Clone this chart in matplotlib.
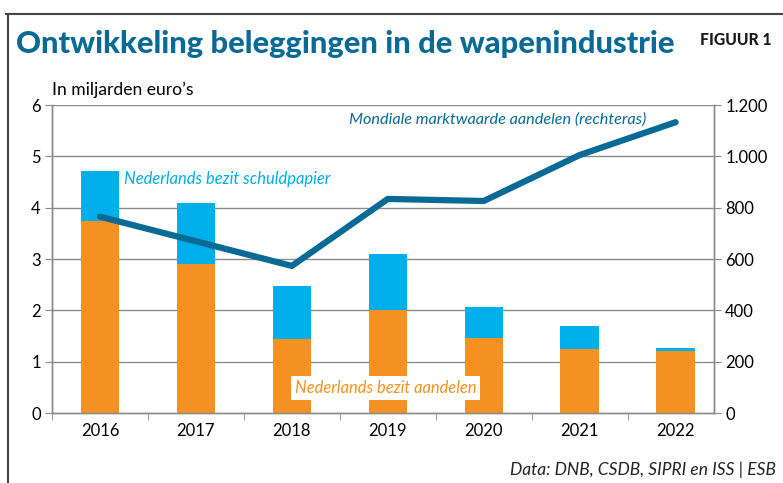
import matplotlib
matplotlib.use('Agg')
import matplotlib.pyplot as plt
from matplotlib.lines import Line2D
import numpy as np

# данные
years = ['2016', '2017', '2018', '2019', '2020', '2021', '2022']
aandelen = [3.75, 2.90, 1.44, 2.00, 1.47, 1.24, 1.21]
totaal = [4.72, 4.09, 2.47, 3.09, 2.06, 1.69, 1.26]
schuldpapier = [t - a for t, a in zip(totaal, aandelen)]
marktwaarde = [765, 669, 573, 834, 826, 1005, 1133]

left_ticks = [0, 1, 2, 3, 4, 5, 6]
right_ticks = [0, 200, 400, 600, 800, 1000, 1200]
right_labels = ['0', '200', '400', '600', '800', '1.000', '1.200']

plt.rcParams['font.family'] = ['Lato', 'DejaVu Sans']

c_orange = '#f39220'
c_light = '#00aeea'
c_dark = '#0a6a96'
c_grid = '#8a8a8a'

fig = plt.figure(figsize=(7.83, 4.83), dpi=100)
ax = fig.add_axes([52 / 783, 70 / 483, 662 / 783, 308 / 483])
ax2 = ax.twinx()

x = np.arange(len(years))
ax.bar(x, aandelen, width=0.4, color=c_orange, zorder=3)
ax.bar(x, schuldpapier, width=0.4, bottom=aandelen, color=c_light, zorder=3)
ax2.plot(x, marktwaarde, color=c_dark, lw=4.5, solid_capstyle='round', zorder=4)

ax.set_xlim(-0.5, 6.4)
ax.set_ylim(0, 6)
ax2.set_ylim(0, 1200)

for v in left_ticks[1:]:
    ax.axhline(v, color=c_grid, lw=1, zorder=1)

ax.set_yticks(left_ticks)
ax.set_yticklabels([str(v) for v in left_ticks], fontsize=12)
ax2.set_yticks(right_ticks)
ax2.set_yticklabels(right_labels, fontsize=12)
ax.set_xticks(x)
ax.set_xticklabels(years, fontsize=12)
ax.set_xticks(np.arange(-0.5, 6, 1), minor=True)
ax.tick_params(axis='x', which='major', length=0, pad=7)
ax.tick_params(axis='x', which='minor', length=5, color=c_grid)
ax.tick_params(axis='y', length=5, color=c_grid, pad=3)
ax2.tick_params(axis='y', length=5, color=c_grid, pad=3)

for a in (ax, ax2):
    a.spines['top'].set_visible(False)
    for s in ('left', 'right', 'bottom'):
        a.spines[s].set_color(c_grid)
        a.spines[s].set_linewidth(1)

# подписи
texts = []
t = fig.text(52 / 783, 1 - 90 / 483, 'In miljarden euro\u2019s', fontsize=13,
             va='center', ha='left')
texts.append((t, 141))
t = ax.text(0.25, 4.55, 'Nederlands bezit schuldpapier', color=c_light, fontsize=13,
            style='italic', va='center', ha='left', zorder=5)
texts.append((t, 206))
t = ax2.text(2.6, 1145, 'Mondiale marktwaarde aandelen (rechteras)', color=c_dark, fontsize=13,
             style='italic', va='center', ha='left', zorder=5)
texts.append((t, 298))
t = ax2.text(2.98, 98, 'Nederlands bezit aandelen', color=c_orange, fontsize=13,
             style='italic', va='center', ha='center', zorder=6,
             bbox=dict(facecolor='white', edgecolor='none', pad=3))
texts.append((t, 181))

t = fig.text(16 / 783, 1 - 44 / 483, 'Ontwikkeling beleggingen in de wapenindustrie',
             color=c_dark, fontsize=25, fontweight='black', va='center', ha='left')
texts.append((t, 660))
t = fig.text(772 / 783, 1 - 40 / 483, 'FIGUUR 1', fontsize=9, fontweight='black',
             va='center', ha='right', color='#1a1a1a')
texts.append((t, 72))
t = fig.text(776 / 783, 1 - 470 / 483, 'Data: DNB, CSDB, SIPRI en ISS | ESB', fontsize=13,
             style='italic', va='center', ha='right', color='#222222')
texts.append((t, 264))

# подгоняем размер шрифта под ширину в оригинале
fig.canvas.draw()
r = fig.canvas.get_renderer()
for t, w in texts:
    bb = t.get_window_extent(renderer=r)
    t.set_fontsize(t.get_fontsize() * w / bb.width)

# рамка
fig.add_artist(Line2D([6 / 783, 1], [1 - 14 / 483, 1 - 14 / 483], color='#444444', lw=1.5,
                      transform=fig.transFigure))
fig.add_artist(Line2D([8 / 783, 8 / 783], [0, 1 - 14 / 483], color='#444444', lw=1.5,
                      transform=fig.transFigure))

fig.savefig('out.png', dpi=100)
